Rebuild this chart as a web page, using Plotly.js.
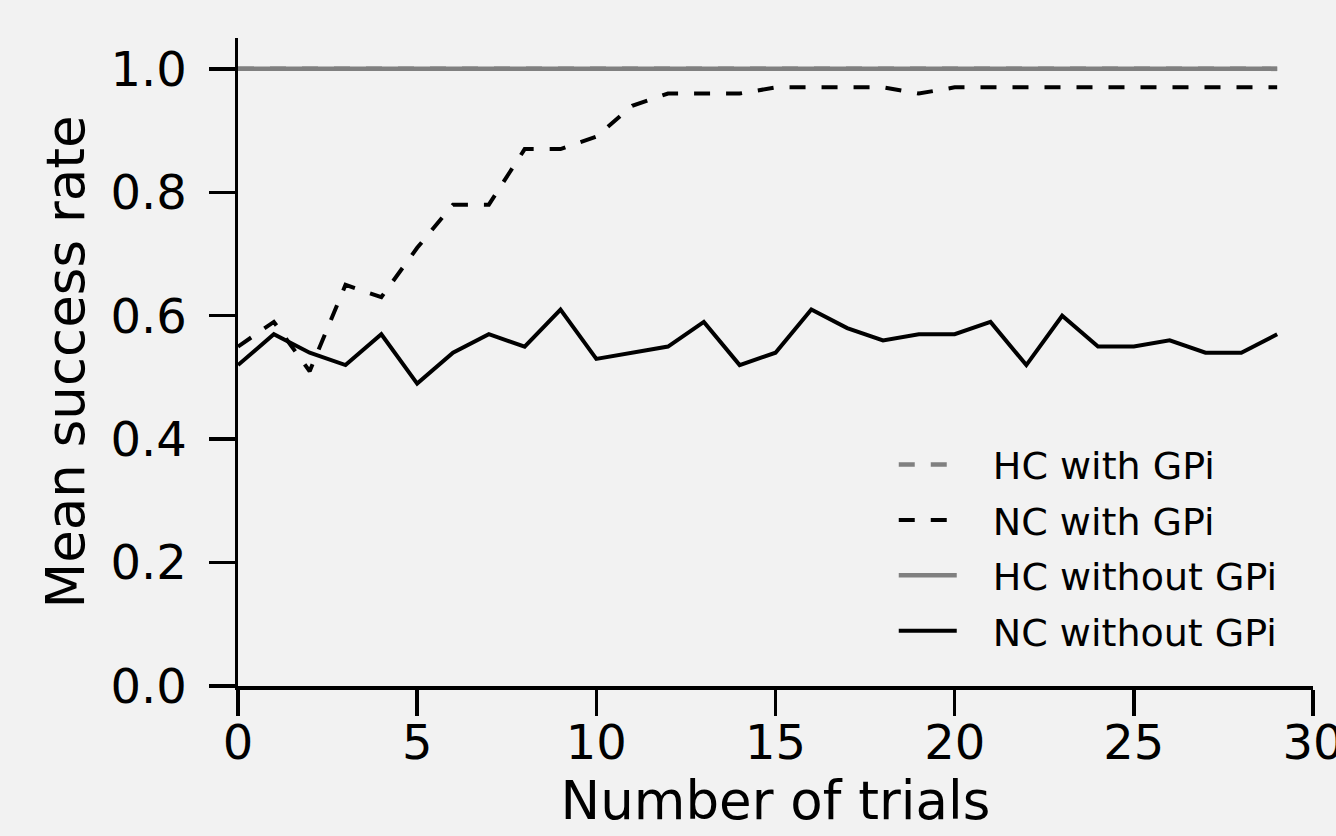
<!DOCTYPE html>
<html>
<head>
<meta charset="utf-8">
<script src="https://cdn.plot.ly/plotly-3.0.1.min.js"></script>
<style>
  html, body { margin: 0; padding: 0; background: #f2f2f2; }
  #chart { width: 1336px; height: 836px; }
</style>
</head>
<body>
<div id="chart"></div>
<script>
const trials = [0,1,2,3,4,5,6,7,8,9,10,11,12,13,14,15,16,17,18,19,20,21,22,23,24,25,26,27,28,29];
const hcWithGPi    = [1,1,1,1,1,1,1,1,1,1,1,1,1,1,1,1,1,1,1,1,1,1,1,1,1,1,1,1,1,1];
const ncWithGPi    = [0.55,0.59,0.51,0.65,0.63,0.71,0.78,0.78,0.87,0.87,0.89,0.94,0.96,0.96,0.96,0.97,0.97,0.97,0.97,0.96,0.97,0.97,0.97,0.97,0.97,0.97,0.97,0.97,0.97,0.97];
const hcWithoutGPi = [1,1,1,1,1,1,1,1,1,1,1,1,1,1,1,1,1,1,1,1,1,1,1,1,1,1,1,1,1,1];
const ncWithoutGPi = [0.52,0.57,0.54,0.52,0.57,0.49,0.54,0.57,0.55,0.61,0.53,0.54,0.55,0.59,0.52,0.54,0.61,0.58,0.56,0.57,0.57,0.59,0.52,0.60,0.55,0.55,0.56,0.54,0.54,0.57];
const seriesNames = ["HC with GPi", "NC with GPi", "HC without GPi", "NC without GPi"];
const xTicks = [0,5,10,15,20,25,30];
const yTicks = [0,0.2,0.4,0.6,0.8,1.0];

const grey = "#808080";
const black = "#000000";
const dashPat = "16px,16px";
const pad = "\u2002 ";

const traces = [
  {x: trials, y: hcWithGPi, name: pad + seriesNames[0], mode: "lines", legendgroup: "a",
   line: {color: grey, width: 4.5, dash: dashPat}},
  {x: trials, y: ncWithGPi, name: pad + seriesNames[1], mode: "lines", legendgroup: "b",
   line: {color: black, width: 4, dash: dashPat}},
  {x: trials, y: hcWithoutGPi, name: pad + seriesNames[2], mode: "lines", legendgroup: "c",
   line: {color: grey, width: 4.5}},
  {x: trials, y: ncWithoutGPi, name: pad + seriesNames[3], mode: "lines", legendgroup: "d",
   line: {color: black, width: 4}}
];

const layout = {
  width: 1336, height: 836,
  paper_bgcolor: "#f2f2f2", plot_bgcolor: "#f2f2f2",
  font: {family: "DejaVu Sans", color: "#000"},
  margin: {l: 238, r: 23, t: 38, b: 150, pad: 0},
  showlegend: true,
  legend: {
    x: 0.61, y: 0.39, xanchor: "left", yanchor: "top",
    bgcolor: "rgba(0,0,0,0)", borderwidth: 0,
    font: {size: 38, family: "DejaVu Sans"},
    itemwidth: 58, traceorder: "grouped", tracegroupgap: 3
  },
  xaxis: {
    range: [0, 30], tickvals: xTicks, ticktext: xTicks.map(String),
    showline: true, linecolor: black, linewidth: 3.5, mirror: false,
    ticks: "outside", ticklen: 26, tickwidth: 3.5, tickcolor: black,
    showgrid: false, zeroline: false,
    ticklabeloverflow: "allow",
    ticklabelstandoff: -14,
    tickfont: {size: 48, family: "DejaVu Sans"},
    title: {text: "Number of trials", font: {size: 53, family: "DejaVu Sans"}, standoff: 10}
  },
  yaxis: {
    range: [0, 1.05], tickvals: yTicks, ticktext: yTicks.map(v => v.toFixed(1)),
    showline: true, linecolor: black, linewidth: 3.5, mirror: false,
    ticks: "outside", ticklen: 26, tickwidth: 3.5, tickcolor: black,
    showgrid: false, zeroline: false,
    tickfont: {size: 48, family: "DejaVu Sans"},
    ticklabelstandoff: 12,
    title: {text: "Mean success rate", font: {size: 53, family: "DejaVu Sans"}, standoff: 10}
  }
};

Plotly.newPlot("chart", traces, layout, {displayModeBar: false, staticPlot: true});
</script>
</body>
</html>
